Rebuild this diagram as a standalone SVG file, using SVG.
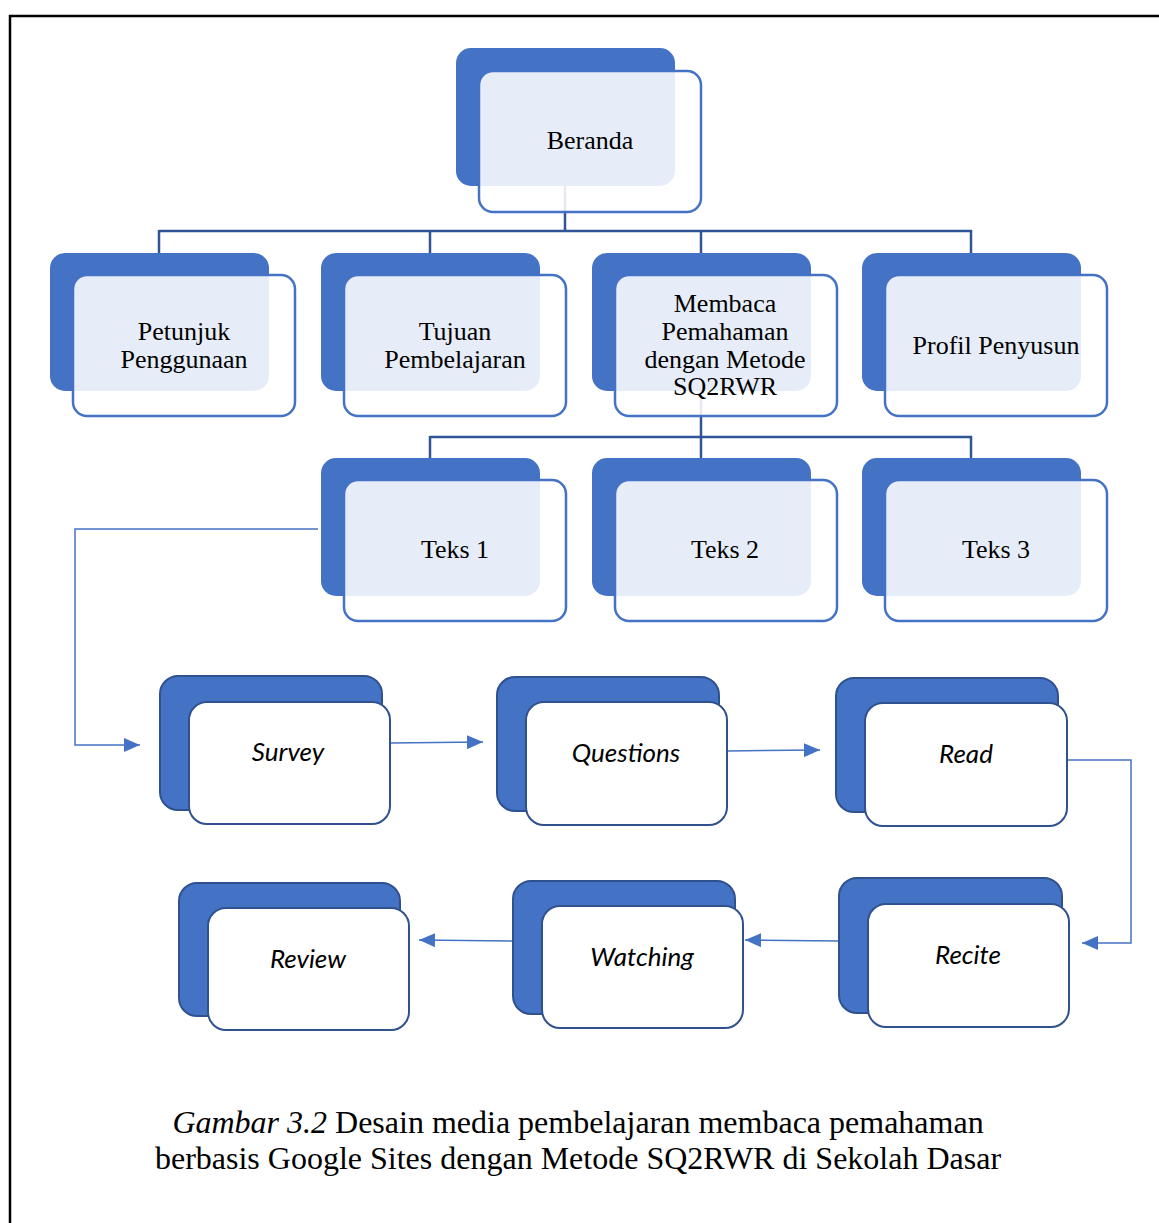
<svg xmlns="http://www.w3.org/2000/svg" width="1159" height="1223" viewBox="0 0 1159 1223">
<style>
.back{fill:#4472C4}
.front{fill:#ffffff;fill-opacity:0.87;stroke:#4472C4;stroke-width:2.5}
.sback{fill:#4472C4;stroke:#2F528F;stroke-width:2}
.sfront{fill:#ffffff;stroke:#2F528F;stroke-width:2}
.t{font-family:"Liberation Serif","Times New Roman",serif;font-size:26px;fill:#000;text-anchor:middle}
.s{font-family:Lato,"Open Sans",sans-serif;font-style:italic;font-size:26px;fill:#000;text-anchor:middle}
.tree{fill:none;stroke:#2F5597;stroke-width:2.5}
.arr{fill:none;stroke:#4472C4;stroke-width:1.5}
.cap{font-family:"Liberation Serif","Times New Roman",serif;font-size:32px;fill:#000;text-anchor:middle}
</style>
<defs>
<marker id="ah" markerUnits="userSpaceOnUse" markerWidth="16" markerHeight="14" refX="16" refY="7" orient="auto">
<path d="M0,0 L16,7 L0,14 z" fill="#4472C4"/>
</marker>
</defs>
<rect x="10" y="16" width="1170" height="1230" fill="none" stroke="#000" stroke-width="2.5"/>
<g id="connectors">
<path class="tree" d="M565,186 V231 M159,231 H972 M159,230 V253 M430,230 V253 M701,230 V253 M971,230 V253"/>
<path class="tree" d="M701,391 V437 M430,437 H972 M430,436 V458 M701,436 V458 M971,436 V458"/>
<path class="arr" d="M318,529 H75 V745 H140" marker-end="url(#ah)"/>
<path class="arr" d="M390,743 L483,742" marker-end="url(#ah)"/>
<path class="arr" d="M727,751 L820,750" marker-end="url(#ah)"/>
<path class="arr" d="M1067,760 H1131 V943 H1082" marker-end="url(#ah)"/>
<path class="arr" d="M839,941 L745,940" marker-end="url(#ah)"/>
<path class="arr" d="M513,941 L419,940" marker-end="url(#ah)"/>
</g>
<g id="beranda">
<rect class="back" x="456" y="48" width="219" height="138" rx="15"/>
<rect class="front" x="479" y="71" width="222" height="141" rx="14"/>
<text class="t" x="590" y="149">Beranda</text>
</g>
<g id="petunjuk">
<rect class="back" x="50" y="253" width="219" height="138" rx="15"/>
<rect class="front" x="73" y="275" width="222" height="141" rx="14"/>
<text class="t" x="184" y="340">Petunjuk</text>
<text class="t" x="184" y="368">Penggunaan</text>
</g>
<g id="tujuan">
<rect class="back" x="321" y="253" width="219" height="138" rx="15"/>
<rect class="front" x="344" y="275" width="222" height="141" rx="14"/>
<text class="t" x="455" y="340">Tujuan</text>
<text class="t" x="455" y="368">Pembelajaran</text>
</g>
<g id="membaca">
<rect class="back" x="592" y="253" width="219" height="138" rx="15"/>
<rect class="front" x="615" y="275" width="222" height="141" rx="14"/>
<text class="t" x="725" y="312">Membaca</text>
<text class="t" x="725" y="340">Pemahaman</text>
<text class="t" x="725" y="368">dengan Metode</text>
<text class="t" x="725" y="395">SQ2RWR</text>
</g>
<g id="profil">
<rect class="back" x="862" y="253" width="219" height="138" rx="15"/>
<rect class="front" x="885" y="275" width="222" height="141" rx="14"/>
<text class="t" x="996" y="354">Profil Penyusun</text>
</g>
<g id="teks1">
<rect class="back" x="321" y="458" width="219" height="138" rx="15"/>
<rect class="front" x="344" y="480" width="222" height="141" rx="14"/>
<text class="t" x="455" y="558">Teks 1</text>
</g>
<g id="teks2">
<rect class="back" x="592" y="458" width="219" height="138" rx="15"/>
<rect class="front" x="615" y="480" width="222" height="141" rx="14"/>
<text class="t" x="725" y="558">Teks 2</text>
</g>
<g id="teks3">
<rect class="back" x="862" y="458" width="219" height="138" rx="15"/>
<rect class="front" x="885" y="480" width="222" height="141" rx="14"/>
<text class="t" x="996" y="558">Teks 3</text>
</g>
<g id="survey">
<rect class="sback" x="160" y="676" width="222" height="134" rx="18"/>
<rect class="sfront" x="189" y="702" width="201" height="122" rx="18"/>
<text class="s" x="288" y="761">Survey</text>
</g>
<g id="questions">
<rect class="sback" x="497" y="677" width="222" height="134" rx="18"/>
<rect class="sfront" x="526" y="702" width="201" height="123" rx="18"/>
<text class="s" x="626" y="762">Questions</text>
</g>
<g id="read">
<rect class="sback" x="836" y="678" width="222" height="134" rx="18"/>
<rect class="sfront" x="865" y="703" width="202" height="123" rx="18"/>
<text class="s" x="966" y="763">Read</text>
</g>
<g id="recite">
<rect class="sback" x="839" y="878" width="223" height="135" rx="18"/>
<rect class="sfront" x="868" y="904" width="201" height="123" rx="18"/>
<text class="s" x="968" y="964">Recite</text>
</g>
<g id="watching">
<rect class="sback" x="513" y="881" width="222" height="133" rx="18"/>
<rect class="sfront" x="542" y="906" width="201" height="122" rx="18"/>
<text class="s" x="642" y="966">Watching</text>
</g>
<g id="review">
<rect class="sback" x="179" y="883" width="221" height="133" rx="18"/>
<rect class="sfront" x="208" y="908" width="201" height="122" rx="18"/>
<text class="s" x="308" y="968">Review</text>
</g>
<g id="caption">
<text class="cap" x="578" y="1133"><tspan font-style="italic">Gambar 3.2</tspan> Desain media pembelajaran membaca pemahaman</text>
<text class="cap" x="578" y="1169">berbasis Google Sites dengan Metode SQ2RWR di Sekolah Dasar</text>
</g>
</svg>
